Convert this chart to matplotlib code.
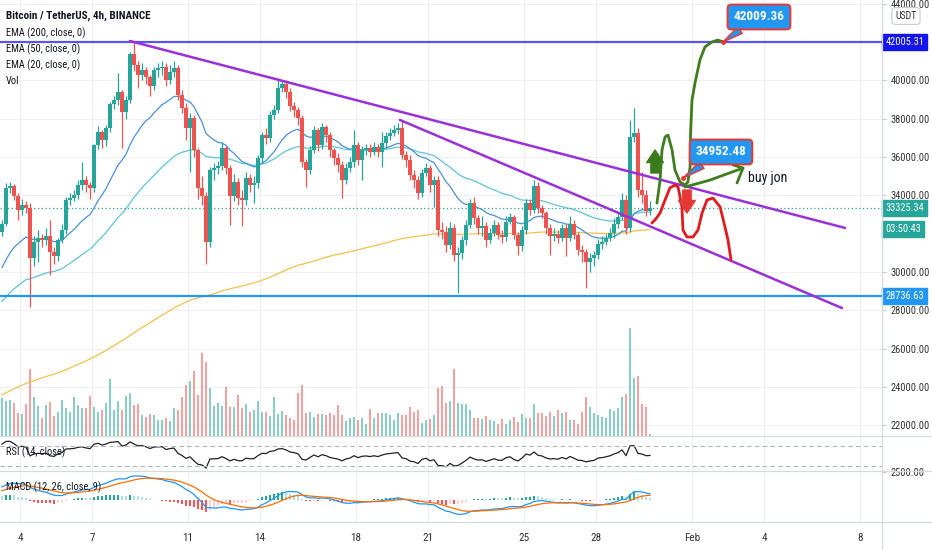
import numpy as np
import matplotlib
matplotlib.use('Agg')
import matplotlib.pyplot as plt
from matplotlib import font_manager
from matplotlib.lines import Line2D

# ---- values (BTCUSDT 4h, Binance) ----
first_open = 32100
closes = [
    32510, 34390, 34490, 33970, 33240, 33500, 33340, 30730, 31570, 31780,
    31670, 31880, 31050, 30840, 31670, 32190, 33760, 33860, 34020, 34540,
    34800, 34540, 34390, 36630, 37310, 36890, 37520, 38770, 38980, 39400,
    38350, 38980, 41380, 40810, 40290, 40550, 40180, 39710, 40550, 40650,
    40700, 40020, 40440, 40650, 39240, 38560, 37520, 38040, 36370, 34390,
    33970, 31570, 35330, 35430, 35530, 36470, 35430, 33970, 34700, 33860,
    33760, 34910, 34540, 34650, 35950, 37150, 37000, 38200, 38460, 39610,
    39810, 39400, 38670, 38460, 38040, 35740, 35330, 36370, 37410, 36630,
    37570, 37150, 36370, 35950, 35590, 34800, 35430, 35740, 36630, 35850,
    36370, 36470, 36270, 36530, 36270, 36740, 37100, 37260, 37410, 37520,
    36110, 35850, 35070, 34800, 34130, 35170, 35430, 34540, 34800, 32190,
    32090, 31410, 32300, 30890, 30990, 31670, 32460, 33600, 32820, 32300,
    32400, 31670, 32040, 32460, 31930, 31830, 32610, 32870, 31930, 31360,
    32190, 33600, 33240, 34490, 33340, 33080, 32300, 31880, 31990, 31780,
    32300, 31780, 32510, 31930, 31150, 31050, 30520, 30730, 30890, 31460,
    31570, 31780, 32040, 32510, 32870, 33760, 32300, 37050, 37260, 34280,
    34020, 33200, 33325.34]
highs = [
    32700, 34650, 34700, 34600, 34100, 33800, 33700, 33600, 31900, 32200,
    32000, 32300, 32700, 31300, 31800, 32500, 33900, 34100, 34300, 34800,
    35740, 35000, 34700, 36700, 37600, 37400, 37700, 38900, 39200, 40390,
    39500, 39200, 41500, 42010, 41000, 40900, 40700, 40300, 40700, 40900,
    41000, 40900, 40800, 41000, 40800, 39500, 38800, 38300, 38200, 36500,
    35000, 34200, 35500, 35700, 35800, 36800, 36600, 35600, 35100, 34900,
    34300, 35200, 35100, 35000, 36100, 37300, 37500, 38400, 38700, 40130,
    40050, 40000, 39600, 38900, 38600, 38200, 35900, 36600, 37600, 37500,
    37800, 37700, 37300, 36500, 36200, 35800, 35700, 36000, 37400, 36800,
    36600, 36700, 36700, 36800, 36700, 37300, 37300, 37500, 37700, 37800,
    37940, 36300, 36100, 35300, 35000, 35400, 35700, 35600, 35000, 35000,
    32600, 32400, 32600, 32500, 31300, 31900, 32700, 33800, 33900, 33000,
    32900, 32600, 32300, 32700, 32600, 32200, 32900, 33100, 33000, 32100,
    32400, 33800, 33800, 34800, 34700, 33500, 33200, 32500, 32300, 32200,
    32500, 32500, 32900, 32700, 32100, 31400, 31200, 31000, 31100, 31700,
    31900, 32000, 32300, 32800, 33100, 34100, 34000, 37940, 38560, 37520,
    35200, 34300, 33700]
lows = [
    31900, 32400, 34100, 33750, 32700, 33000, 33100, 28170, 30300, 30500,
    31300, 31400, 29850, 30400, 30600, 31500, 32000, 33500, 33700, 33800,
    34300, 34200, 33800, 34200, 36400, 36500, 36600, 37300, 38500, 38700,
    36470, 38000, 38800, 40500, 39600, 40000, 39800, 39200, 39500, 40200,
    40300, 39700, 39800, 40200, 39000, 38300, 36900, 35200, 36000, 33800,
    33500, 30420, 31300, 34800, 35100, 35300, 35100, 32460, 33700, 33500,
    32400, 33500, 34200, 33600, 34400, 35700, 36700, 36800, 38000, 38300,
    39400, 39100, 38400, 38100, 37700, 35500, 34440, 35100, 36200, 36300,
    36400, 36800, 36000, 35600, 35200, 33860, 34600, 35200, 35500, 35600,
    34800, 36100, 36000, 36100, 36000, 35500, 36500, 36900, 37100, 37200,
    35900, 35500, 34800, 34400, 33800, 33900, 35000, 34200, 33400, 31900,
    31700, 31050, 31200, 30600, 28900, 30700, 31400, 32300, 32500, 32000,
    31900, 31300, 31500, 31900, 31700, 31500, 31600, 32500, 31700, 30890,
    31100, 32000, 33000, 33100, 33100, 32800, 32000, 30890, 31600, 31500,
    31600, 30840, 31600, 31700, 30900, 30500, 29170, 30000, 30300, 30700,
    31200, 31400, 31600, 31800, 32300, 32700, 32000, 32100, 36800, 33900,
    33600, 32900, 33000]
volumes = [
    115, 105, 107, 100, 70, 65, 95, 203, 118, 90,
    55, 93, 102, 60, 73, 107, 83, 72, 117, 93,
    83, 83, 119, 87, 73, 77, 99, 173, 77, 105,
    77, 119, 130, 93, 96, 62, 57, 66, 63, 47,
    49, 55, 45, 83, 78, 117, 153, 165, 197, 122,
    249, 224, 145, 90, 99, 90, 146, 87, 87, 122,
    83, 96, 73, 77, 105, 73, 73, 60, 117, 66,
    75, 63, 55, 49, 128, 153, 69, 72, 57, 66,
    66, 63, 69, 63, 93, 63, 45, 53, 58, 48,
    55, 35, 81, 53, 69, 69, 69, 62, 47, 69,
    63, 62, 87, 73, 77, 40, 48, 52, 62, 143,
    151, 99, 105, 203, 99, 97, 95, 77, 55, 55,
    52, 60, 49, 45, 35, 52, 35, 47, 57, 42,
    67, 53, 53, 96, 68, 70, 61, 73, 61, 79,
    69, 73, 47, 47, 37, 73, 117, 87, 69, 62,
    58, 55, 80, 75, 83, 117, 125, 325, 175, 180,
    95, 87, 5]

# indicator values at the left edge of the chart (history before it is not shown)
ema_lengths = [200, 50, 20]
ema_seeds = [23500, 28300, 30000]
ema_colors = ['#f7c04a', '#5ec5d8', '#4a90d9']
macd_seeds = [30900, 29800, 740]   # ema12, ema26, signal
rsi_seeds = [420, 160]             # avg gain, avg loss

level_top = 42005.31
level_bottom = 28736.63
last_price = 33325.34

date_ticks = [4, 7, 11, 14, 18, 21, 25, 28, 32, 35, 39]
date_labels = ['4', '7', '11', '14', '18', '21', '25', '28', 'Feb', '4', '8']
price_ticks = [44000, 40000, 38000, 36000, 34000, 30000, 28000, 26000, 24000, 22000]

# drawings (day of Jan, price)
trend1_day, trend1_price = [8.58, 38.38], [42060, 32300]
trend2_day, trend2_price = [19.83, 38.25], [37940, 28120]
green_day = [30.54, 30.67, 30.75, 30.875, 31.0, 31.17, 31.29, 31.5, 31.71, 31.83,
             31.92, 31.94, 32.0, 32.125, 32.33, 32.54, 32.83, 33.08, 33.29]
green_price = [33600, 34800, 36370, 37050, 37150, 36370, 35330, 34700, 34540, 34700,
               35480, 37260, 38980, 39870, 41070, 41750, 42010, 42110, 42010]
buy_day, buy_price = [31.71, 32.75, 34.125], [34440, 34800, 35430]
head_day, head_price = [33.71, 34.125, 33.875], [35590, 35430, 34650]
red_day = [30.33, 30.46, 30.67, 30.875, 31.08, 31.29, 31.42, 31.58, 31.625, 31.79,
           32.04, 32.25, 32.42, 32.625, 32.875, 33.17, 33.375, 33.5, 33.625]
red_price = [32560, 32720, 33080, 33760, 34390, 34540, 34440, 33400, 32190, 31830,
             31830, 32190, 33080, 33760, 33860, 33400, 32350, 31670, 30630]
up_arrow = [(30.46, 35170), (30.46, 36370)]
down_arrow = [(31.79, 34280), (31.79, 33080)]
callouts = [('42009.36', (33.29, 42008), (34.79, 43313)),
            ('34952.48', (31.625, 34908), (33.21, 36266))]

# ---- derived ----
n = len(closes)
closes = np.array(closes, float)
opens = np.concatenate([[first_open], closes[:-1]])
days = 3.25 + np.arange(n) / 6.0
up = closes >= opens
GREEN, RED = '#26a69a', '#ef5350'
col = np.where(up, GREEN, RED)
BODY_W = 0.13   # candle body width, days
VOL_W = 0.11


def ema(vals, length, seed):
    a = 2.0 / (length + 1)
    out, e = [], seed
    for v in vals:
        e = e + a * (v - e)
        out.append(e)
    return np.array(out)


names = {f.name for f in font_manager.fontManager.ttflist}
FONT = 'Liberation Sans'
for cand in ['Roboto Condensed', 'Liberation Sans Narrow', 'Arial Narrow', 'Open Sans Condensed']:
    if cand in names:
        FONT = cand
        break
plt.rcParams['font.family'] = [FONT, 'DejaVu Sans']

W, H = 932, 550
fig = plt.figure(figsize=(W / 100, H / 100), dpi=100)
fig.patch.set_facecolor('white')


def box(x0, y0, x1, y1):
    return [x0 / W, 1 - y1 / H, (x1 - x0) / W, (y1 - y0) / H]


ax = fig.add_axes(box(0, 0, 882, 436))
ax_rsi = fig.add_axes(box(0, 436, 882, 471), sharex=ax)
ax_macd = fig.add_axes(box(0, 471, 882, 522), sharex=ax)

xmin, xmax = 4 - 20 / 24, 4 + 862 / 24
for a in (ax, ax_rsi, ax_macd):
    for s in a.spines.values():
        s.set_visible(False)
    a.set_xlim(xmin, xmax)
    a.set_xticks(date_ticks)
    a.grid(axis='x', color='#eef0f3', lw=0.8)
    a.set_axisbelow(True)
    a.tick_params(axis='x', length=0, labelbottom=False)
    a.yaxis.tick_right()

# main panel
ax.set_ylim(21441, 44200)
ax.set_yticks(price_ticks)
ax.set_yticklabels([f'{t:.2f}' for t in price_ticks])
ax.tick_params(axis='y', length=3, color='#c8cbd2', labelsize=7.5, labelcolor='#333333', pad=3)
ax.grid(axis='y', color='#eef0f3', lw=0.8)

vol_top = max(volumes) * 436 / 108
ax.bar(days, np.array(volumes) / vol_top, width=VOL_W, bottom=0, color=col, alpha=0.55,
       linewidth=0, transform=ax.get_xaxis_transform(), zorder=1)

for length, seed, c in zip(ema_lengths, ema_seeds, ema_colors):
    ax.plot(days, ema(closes, length, seed), color=c, lw=0.9, zorder=2)

ax.vlines(days, lows, highs, color=col, lw=0.9, zorder=3)
body_lo = np.minimum(opens, closes)
body_h = np.maximum(np.abs(closes - opens), 40)
ax.bar(days, body_h, width=BODY_W, bottom=body_lo, color=col, linewidth=0, zorder=3)

ax.axhline(last_price, color=GREEN, ls=(0, (1, 2)), lw=0.9, zorder=2)
ax.axhline(level_top, color='#5b52f0', lw=1.6, zorder=4)
ax.axhline(level_bottom, color='#2196f3', lw=1.6, zorder=4)
ax.plot(trend1_day, trend1_price, color='#9b30d9', lw=1.8, zorder=4, solid_capstyle='round')
ax.plot(trend2_day, trend2_price, color='#9b30d9', lw=1.8, zorder=4, solid_capstyle='round')

kw = dict(lw=2.0, zorder=5, solid_capstyle='round', solid_joinstyle='round')
ax.plot(green_day, green_price, color='#3f7d1d', **kw)
ax.plot(buy_day, buy_price, color='#3f7d1d', **kw)
ax.plot(head_day, head_price, color='#3f7d1d', **kw)
ax.plot(red_day, red_price, color='#e3191c', **kw)

for (tail, tip), c in [(up_arrow, '#3b7a1a'), (down_arrow, '#e53935')]:
    ax.annotate('', xy=tip, xytext=tail, zorder=6,
                arrowprops=dict(arrowstyle='simple,head_length=0.9,head_width=1.2,tail_width=0.6',
                                fc=c, ec=c, mutation_scale=10, shrinkA=0, shrinkB=0))

for txt, xy, xyt in callouts:
    ax.annotate(txt, xy=xy, xytext=xyt, ha='center', va='center', color='white',
                fontsize=9.5, fontweight='bold', zorder=7,
                bbox=dict(boxstyle='round,pad=0.45,rounding_size=0.3', fc='#2196f3', ec='#e53935', lw=1.4),
                arrowprops=dict(arrowstyle='wedge,tail_width=0.6,shrink_factor=0.5', fc='#2196f3',
                                ec='#e53935', lw=1.0, shrinkA=0, shrinkB=0))
    ax.plot(*xy, 'o', color='#e53935', ms=2.5, zorder=8)

ax.text(34.33, 34908, 'buy jon', fontsize=10, color='#131722', va='center', ha='left', zorder=6)


# price tags on the right scale
def tag(a, y, text, color, dy=0):
    a.annotate(text, xy=(1, y), xycoords=('axes fraction', 'data'), xytext=(2.5, dy),
               textcoords='offset points', va='center', ha='left', color='white', fontsize=7.5,
               annotation_clip=False, zorder=10,
               bbox=dict(boxstyle='square,pad=0.3', fc=color, ec=color))


tag(ax, level_top, f'{level_top:.2f}', '#1414ee')
tag(ax, last_price, f'{last_price:.2f}', GREEN)
tag(ax, last_price, '03:50:43', GREEN, dy=-15)
tag(ax, level_bottom, f'{level_bottom:.2f}', '#2196f3')

# RSI
diffs = np.diff(np.concatenate([[first_open], closes]))
g, l = rsi_seeds
rsi = []
for d in diffs:
    g = (g * 13 + max(d, 0)) / 14
    l = (l * 13 + max(-d, 0)) / 14
    rsi.append(100 - 100 / (1 + g / l))
ax_rsi.plot(days, rsi, color='#222222', lw=0.9)
ax_rsi.set_ylim(20, 90)
for lvl in (70, 30):
    ax_rsi.axhline(lvl, color='#b2b5be', ls=(0, (4, 3)), lw=0.8)
ax_rsi.set_yticks([])

# MACD
e12 = ema(closes, 12, macd_seeds[0])
e26 = ema(closes, 26, macd_seeds[1])
macd = e12 - e26
signal = ema(macd, 9, macd_seeds[2])
hist = macd - signal
prev = np.concatenate([[hist[0]], hist[:-1]])
hcol = np.where(hist >= 0, np.where(hist > prev, '#26a69a', '#b2dfdb'),
                np.where(hist > prev, '#ffcdd2', '#ff5252'))
ax_macd.bar(days, hist, width=VOL_W, color=hcol, linewidth=0, zorder=1)
ax_macd.plot(days, macd, color='#2196f3', lw=0.9, zorder=2)
ax_macd.plot(days, signal, color='#ff6d00', lw=0.9, zorder=2)
ax_macd.set_ylim(-2037, 2593)
ax_macd.set_yticks([2500])
ax_macd.set_yticklabels(['2500.00'])
ax_macd.tick_params(axis='y', length=3, color='#c8cbd2', labelsize=7.5, labelcolor='#333333', pad=3)
ax_macd.tick_params(axis='x', labelbottom=True, labelsize=8, labelcolor='#333333', pad=8)
ax_macd.set_xticklabels(date_labels)

# panel separators
for y in (436, 471, 522):
    fig.add_artist(Line2D([0, 1], [1 - y / H] * 2, color='#d6d9df', lw=0.9))
fig.add_artist(Line2D([882 / W] * 2, [0, 1], color='#d6d9df', lw=0.9))

# legends
fig.text(6 / W, 1 - 16 / H, 'Bitcoin / TetherUS, 4h, BINANCE', fontsize=8, fontweight='bold',
         color='#131722', va='center')
for i, t in enumerate(['EMA (200, close, 0)', 'EMA (50, close, 0)', 'EMA (20, close, 0)', 'Vol']):
    fig.text(6 / W, 1 - (33 + 16 * i) / H, t, fontsize=7.5, color='#131722', va='center')
fig.text(6 / W, 1 - 452 / H, 'RSI (14, close)', fontsize=7.5, color='#131722', va='center')
fig.text(6 / W, 1 - 487 / H, 'MACD (12, 26, close, 9)', fontsize=7.5, color='#131722', va='center')
fig.text(906 / W, 1 - 16 / H, 'USDT', fontsize=7, color='#333333', ha='center', va='center',
         bbox=dict(boxstyle='round,pad=0.35', fc='white', ec='#c8cbd2', lw=0.8))

fig.savefig('out.png', dpi=100)
